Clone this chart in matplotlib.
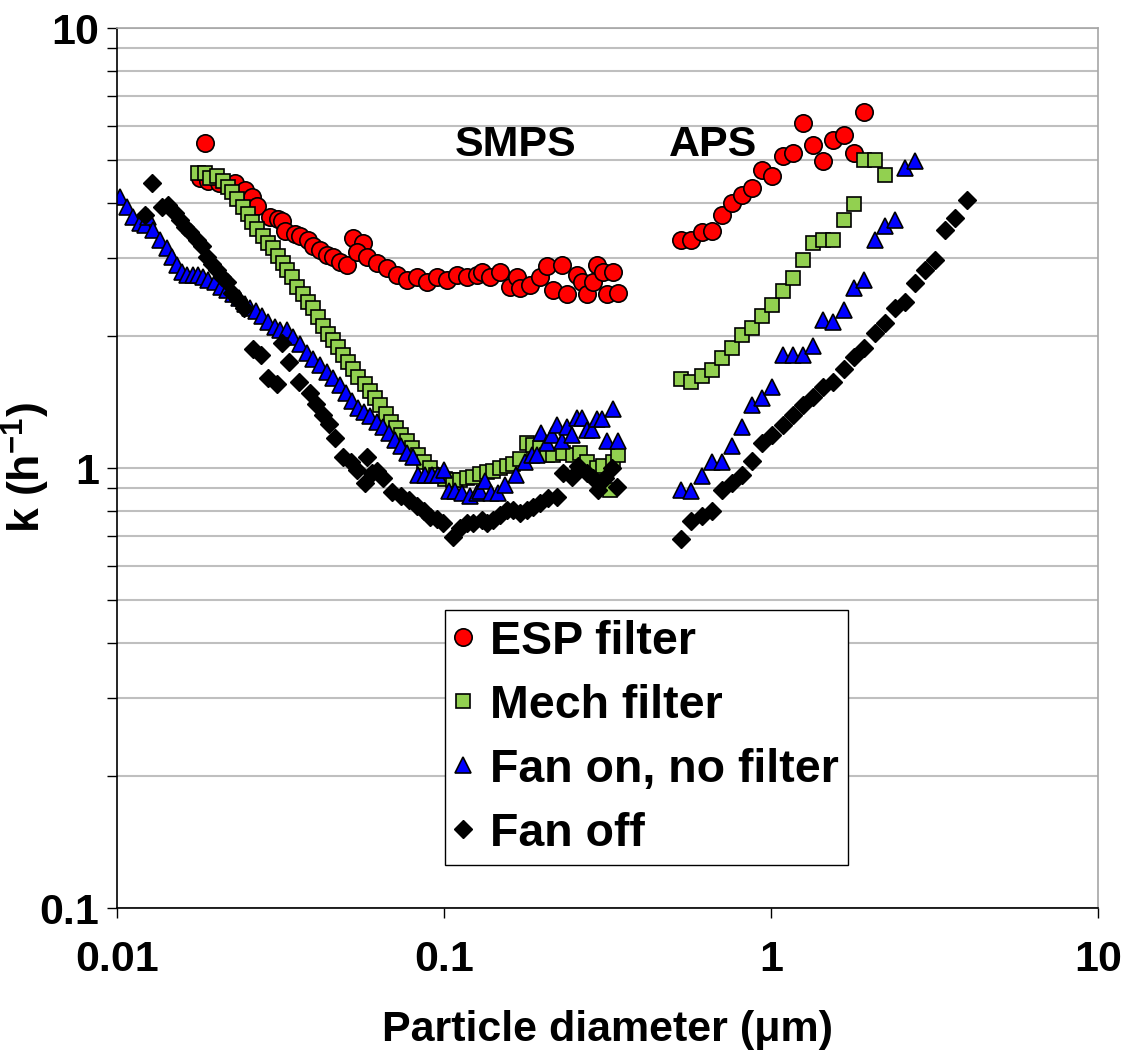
import matplotlib
matplotlib.use("Agg")
import matplotlib.pyplot as plt
from matplotlib.ticker import FixedLocator, FixedFormatter, LogLocator, NullFormatter

# SMPS range, ESP filter
esp_smps_d = [0.0186, 0.0179, 0.0190, 0.0205, 0.0230, 0.0246, 0.0259, 0.0268, 0.0294, 0.0310,
              0.0320, 0.0327, 0.0350, 0.0363, 0.0384, 0.0398, 0.0418, 0.0439, 0.0458, 0.0481,
              0.0505, 0.0527, 0.0565, 0.0542, 0.0582, 0.0624, 0.0669, 0.0718, 0.0770, 0.0826,
              0.0886, 0.0951, 0.1020, 0.1094, 0.1174, 0.1259, 0.1306, 0.1383, 0.1483, 0.1591,
              0.1671, 0.1707, 0.1831, 0.1964, 0.2065, 0.2154, 0.2294, 0.2376, 0.2549, 0.2642,
              0.2736, 0.2856, 0.2936, 0.3064, 0.3150, 0.3288, 0.3405]
esp_smps_k = [5.49, 4.57, 4.50, 4.45, 4.45, 4.29, 4.12, 3.93, 3.71, 3.68,
              3.65, 3.46, 3.41, 3.36, 3.30, 3.20, 3.13, 3.05, 3.02, 2.94,
              2.90, 3.34, 3.25, 3.10, 3.01, 2.93, 2.85, 2.75, 2.68, 2.72,
              2.65, 2.72, 2.68, 2.75, 2.72, 2.75, 2.79, 2.72, 2.79, 2.58,
              2.72, 2.56, 2.61, 2.72, 2.88, 2.54, 2.90, 2.48, 2.75, 2.65,
              2.48, 2.65, 2.90, 2.79, 2.48, 2.79, 2.50]

# SMPS range, mechanical filter
mech_smps_d = [0.0177, 0.0186, 0.0193, 0.0202, 0.0211, 0.0219, 0.0225, 0.0233, 0.0242, 0.0251,
               0.0259, 0.0268, 0.0280, 0.0290, 0.0300, 0.0311, 0.0322, 0.0331, 0.0343, 0.0355,
               0.0370, 0.0384, 0.0398, 0.0412, 0.0427, 0.0442, 0.0458, 0.0475, 0.0492, 0.0509,
               0.0528, 0.0547, 0.0574, 0.0595, 0.0617, 0.0639, 0.0666, 0.0690, 0.0715, 0.0741,
               0.0770, 0.0801, 0.0833, 0.0866, 0.0907, 0.0943, 0.1007, 0.1065, 0.1119, 0.1176,
               0.1227, 0.1289, 0.1354, 0.1412, 0.1484, 0.1558, 0.1626, 0.1708, 0.1794, 0.1872,
               0.1966, 0.2065, 0.2154, 0.2312, 0.2480, 0.2606, 0.2737, 0.2937, 0.3064, 0.3218,
               0.3287, 0.3405]
mech_smps_k = [4.69, 4.69, 4.57, 4.60, 4.48, 4.36, 4.23, 4.08, 3.91, 3.77,
               3.62, 3.50, 3.37, 3.25, 3.17, 3.03, 2.93, 2.82, 2.71, 2.58,
               2.48, 2.39, 2.31, 2.20, 2.10, 2.02, 1.95, 1.88, 1.81, 1.74,
               1.68, 1.61, 1.55, 1.50, 1.44, 1.39, 1.33, 1.27, 1.23, 1.19,
               1.15, 1.11, 1.07, 1.03, 1.00, 0.966, 0.946, 0.941, 0.941, 0.951,
               0.956, 0.971, 0.981, 0.986, 1.00, 1.01, 1.02, 1.05, 1.14, 1.13,
               1.11, 1.07, 1.07, 1.08, 1.07, 1.08, 1.03, 1.00, 1.01, 0.893,
               1.03, 1.07]

# SMPS range, fan on without filter
fan_smps_d = [0.01021, 0.01073, 0.01119, 0.01176, 0.01218, 0.01244, 0.01288, 0.01354, 0.01422, 0.01473,
              0.01526, 0.01581, 0.01637, 0.01708, 0.01770, 0.01832, 0.01898, 0.01994, 0.02080, 0.02170,
              0.02263, 0.02361, 0.02463, 0.02551, 0.02661, 0.02776, 0.02896, 0.03042, 0.03151, 0.03311,
              0.03453, 0.03627, 0.03811, 0.03975, 0.04176, 0.04387, 0.04576, 0.04808, 0.05014, 0.05231,
              0.05458, 0.05693, 0.05938, 0.06240, 0.06510, 0.06790, 0.07083, 0.07386, 0.07705, 0.08036,
              0.08328, 0.08749, 0.09191, 0.09587, 0.1000, 0.1036, 0.1081, 0.1135, 0.1201, 0.1262,
              0.1289, 0.1335, 0.1392, 0.1463, 0.1537, 0.1661, 0.1769, 0.1858, 0.1924, 0.1980,
              0.2065, 0.2139, 0.2216, 0.2295, 0.2377, 0.2462, 0.2550, 0.2642, 0.2737, 0.2835,
              0.2937, 0.3042, 0.3151, 0.3287, 0.3405]
fan_smps_k = [4.14, 3.91, 3.72, 3.61, 3.57, 3.71, 3.48, 3.30, 3.17, 3.02,
              2.90, 2.79, 2.75, 2.75, 2.75, 2.72, 2.68, 2.64, 2.58, 2.54,
              2.49, 2.43, 2.36, 2.31, 2.28, 2.22, 2.15, 2.09, 2.06, 2.06,
              1.99, 1.91, 1.83, 1.77, 1.71, 1.65, 1.60, 1.54, 1.48, 1.42,
              1.37, 1.34, 1.31, 1.27, 1.24, 1.20, 1.16, 1.12, 1.08, 1.06,
              0.966, 0.966, 0.966, 0.966, 0.991, 0.888, 0.888, 0.879, 0.865, 0.879,
              0.888, 0.936, 0.879, 0.879, 0.916, 0.966, 1.03, 1.07, 1.07, 1.20,
              1.14, 1.19, 1.25, 1.15, 1.24, 1.19, 1.30, 1.30, 1.22, 1.22,
              1.29, 1.29, 1.15, 1.36, 1.15]

# SMPS range, fan off
off_smps_d = [0.01279, 0.01218, 0.01373, 0.01432, 0.01504, 0.01558, 0.01614, 0.01672, 0.01756, 0.01819,
              0.01884, 0.01952, 0.02022, 0.02095, 0.02170, 0.02247, 0.02344, 0.02446, 0.02606, 0.02757,
              0.02896, 0.03086, 0.03197, 0.03357, 0.03602, 0.03893, 0.04061, 0.04266, 0.04450, 0.04642,
              0.04912, 0.05195, 0.05420, 0.05733, 0.05814, 0.06023, 0.06240, 0.06510, 0.06934, 0.07386,
              0.07816, 0.08268, 0.08685, 0.09062, 0.09519, 0.09929, 0.1065, 0.1119, 0.1176, 0.1227,
              0.1307, 0.1354, 0.1412, 0.1484, 0.1558, 0.1626, 0.1708, 0.1794, 0.1872, 0.1966,
              0.2080, 0.2216, 0.2312, 0.2462, 0.2569, 0.2737, 0.2855, 0.2958, 0.3108, 0.3265, 0.3381]
off_smps_k = [4.45, 3.75, 3.91, 3.97, 3.80, 3.66, 3.53, 3.43, 3.30, 3.19,
              3.01, 2.91, 2.82, 2.72, 2.65, 2.50, 2.41, 2.31, 1.86, 1.81,
              1.60, 1.55, 1.92, 1.74, 1.57, 1.48, 1.40, 1.32, 1.26, 1.17,
              1.06, 1.03, 0.991, 0.926, 1.06, 0.976, 0.986, 0.951, 0.884, 0.865,
              0.847, 0.821, 0.800, 0.775, 0.767, 0.751, 0.698, 0.732, 0.751, 0.751,
              0.763, 0.751, 0.763, 0.783, 0.804, 0.804, 0.791, 0.804, 0.817, 0.834,
              0.856, 0.861, 0.976, 0.955, 1.01, 0.976, 0.951, 0.893, 0.951, 1.00, 0.907]

# APS channels (shared by all four runs)
aps_d = [0.530, 0.568, 0.614, 0.659, 0.707, 0.759, 0.814, 0.873, 0.939, 1.007,
         1.086, 1.165, 1.256, 1.347, 1.445, 1.551, 1.673, 1.798, 1.929, 2.080,
         2.232, 2.394, 2.569, 2.757, 2.958, 3.173, 3.405, 3.653, 3.967]
esp_aps_k = [3.30, 3.30, 3.43, 3.45, 3.76, 4.01, 4.18, 4.34, 4.76, 4.60,
             5.11, 5.20, 6.08, 5.43, 4.98, 5.57, 5.72, 5.20, 6.43]
mech_aps_k = [1.59, 1.57, 1.62, 1.67, 1.78, 1.87, 2.01, 2.08, 2.21, 2.35,
              2.52, 2.70, 2.97, 3.25, 3.30, 3.30, 3.67, 3.98, 5.02, 5.02, 4.64]
fan_aps_k = [0.893, 0.885, 0.957, 1.03, 1.03, 1.12, 1.24, 1.39, 1.44, 1.53,
             1.81, 1.81, 1.81, 1.89, 2.17, 2.15, 2.29, 2.57, 2.68, 3.30,
             3.54, 3.67, 4.81, 4.98]
off_aps_k = [0.690, 0.756, 0.776, 0.797, 0.893, 0.925, 0.966, 1.04, 1.14, 1.19,
             1.25, 1.32, 1.39, 1.45, 1.53, 1.57, 1.68, 1.79, 1.87, 2.03,
             2.14, 2.31, 2.39, 2.63, 2.82, 2.97, 3.48, 3.70, 4.07]

labels = ["ESP filter", "Mech filter", "Fan on, no filter", "Fan off"]
x_ticks = [0.01, 0.1, 1, 10]
x_tick_labels = ["0.01", "0.1", "1", "10"]
y_ticks = [0.1, 1, 10]
y_tick_labels = ["0.1", "1", "10"]

plt.rcParams['font.family'] = ['Liberation Sans', 'DejaVu Sans']
plt.rcParams['font.weight'] = 'bold'
plt.rcParams['mathtext.fontset'] = 'custom'
plt.rcParams['mathtext.rm'] = 'Liberation Sans:bold'
plt.rcParams['mathtext.bf'] = 'Liberation Sans:bold'

W, H = 1121, 1059
fig = plt.figure(figsize=(W / 100, H / 100), dpi=100)
ax = fig.add_axes([117 / W, 1 - 908 / H, 981 / W, 880 / H])

series = [
    (esp_smps_d + aps_d[:len(esp_aps_k)], esp_smps_k + esp_aps_k,
     dict(marker='o', ms=12.5, mfc='#FF0000', mec='black', mew=1.2)),
    (mech_smps_d + aps_d[:len(mech_aps_k)], mech_smps_k + mech_aps_k,
     dict(marker='s', ms=10.5, mfc='#92D050', mec='black', mew=1.2)),
    (fan_smps_d + aps_d[:len(fan_aps_k)], fan_smps_k + fan_aps_k,
     dict(marker='^', ms=12, mfc='#0000FF', mec='black', mew=1.2)),
    (off_smps_d + aps_d[:len(off_aps_k)], off_smps_k + off_aps_k,
     dict(marker='D', ms=9, mfc='black', mec='black', mew=1.0)),
]
for (d, k, style), lab in zip(series, labels):
    ax.plot(d, k, linestyle='none', label=lab, **style)

ax.set_xscale('log')
ax.set_yscale('log')
ax.set_xlim(0.01, 10)
ax.set_ylim(0.1, 10)

ax.xaxis.set_major_locator(FixedLocator(x_ticks))
ax.xaxis.set_major_formatter(FixedFormatter(x_tick_labels))
ax.xaxis.set_minor_locator(FixedLocator([]))
ax.yaxis.set_major_locator(FixedLocator(y_ticks))
ax.yaxis.set_major_formatter(FixedFormatter(y_tick_labels))
ax.yaxis.set_minor_locator(LogLocator(base=10, subs=range(2, 10)))
ax.yaxis.set_minor_formatter(NullFormatter())

ax.grid(axis='y', which='both', color='#BFBFBF', lw=1.5)
ax.set_axisbelow(True)

ax.tick_params(axis='x', which='major', direction='out', length=7, width=1,
               labelsize=31, pad=16)
ax.tick_params(axis='y', which='both', direction='out', length=7, width=1,
               labelsize=31, pad=6)
for s in ['left', 'bottom']:
    ax.spines[s].set_color('black')
    ax.spines[s].set_linewidth(1.2)
for s in ['top', 'right']:
    ax.spines[s].set_color('#A6A6A6')
    ax.spines[s].set_linewidth(1.2)

ax.set_xlabel('Particle diameter (\u03bcm)', fontsize=31, fontweight='bold', labelpad=22)
ax.set_ylabel(r'k (h$^{-1}$)', fontsize=32, fontweight='bold')
ax.yaxis.set_label_coords(-0.066, 0.5)

ax.text(0.165, 5.43, 'SMPS', fontsize=31, fontweight='bold', ha='center', va='center')
ax.text(0.665, 5.43, 'APS', fontsize=31, fontweight='bold', ha='center', va='center')

leg = ax.legend(loc='lower left', bbox_to_anchor=(0.334, 0.049), fontsize=33.5,
                frameon=True, fancybox=False, edgecolor='black', framealpha=1,
                handlelength=0.4, handletextpad=0.37, labelspacing=0.43,
                borderpad=0.2, borderaxespad=0, numpoints=1)
leg.get_frame().set_linewidth(1.0)

fig.savefig('out.png', dpi=100)
